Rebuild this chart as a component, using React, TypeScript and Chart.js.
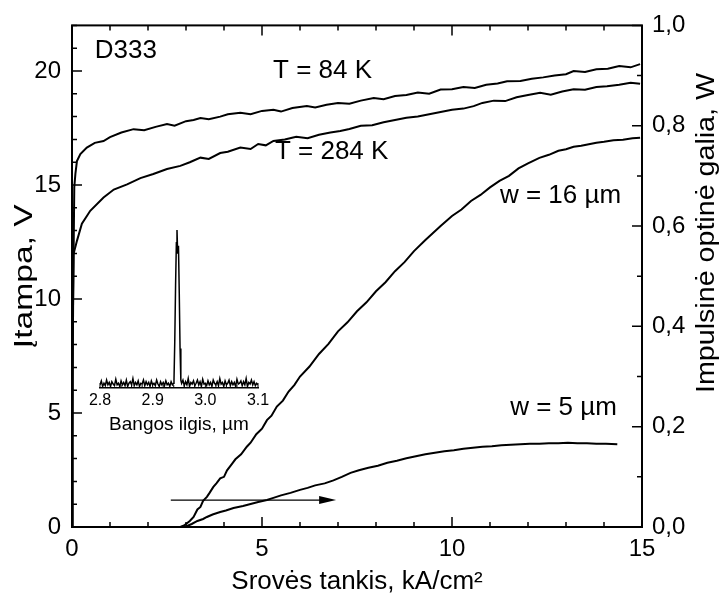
import React, { useEffect, useRef } from 'react';
import { Chart, registerables } from 'chart.js';

Chart.register(...registerables);

const FONT = '"Liberation Sans", Arial, Helvetica, sans-serif';

// ---- Main chart data ----
// Voltage (left axis, V) vs current density (kA/cm^2)
const t84Current = [0, 0.01, 0.03, 0.06, 0.09, 0.13, 0.22, 0.39, 0.6, 0.83, 1.0, 1.3, 1.62, 1.9, 2.2, 2.5, 2.7, 3.0, 3.2, 3.38, 3.6, 3.9, 4.1, 4.43, 4.7, 5.0, 5.3, 5.5, 5.8, 6.18, 6.4, 6.7, 7.0, 7.3, 7.6, 7.94, 8.2, 8.5, 8.8, 9.1, 9.4, 9.7, 10.0, 10.3, 10.6, 10.9, 11.2, 11.45, 11.8, 12.1, 12.4, 12.7, 13.0, 13.2, 13.5, 13.8, 14.1, 14.4, 14.7, 14.95];
const t84Voltage = [0, 4, 10, 14.9, 15.5, 16.05, 16.36, 16.64, 16.85, 16.93, 17.1, 17.3, 17.45, 17.4, 17.55, 17.67, 17.6, 17.8, 17.85, 17.94, 17.88, 18.0, 18.1, 18.17, 18.1, 18.25, 18.3, 18.22, 18.38, 18.46, 18.4, 18.52, 18.6, 18.56, 18.7, 18.82, 18.76, 18.9, 18.95, 19.06, 19.0, 19.19, 19.2, 19.3, 19.26, 19.4, 19.45, 19.55, 19.56, 19.66, 19.72, 19.8, 19.86, 20.0, 19.96, 20.08, 20.1, 20.22, 20.16, 20.3];

const t284Current = [0, 0.01, 0.025, 0.04, 0.13, 0.26, 0.48, 0.83, 1.1, 1.45, 1.8, 2.14, 2.5, 2.85, 3.1, 3.38, 3.6, 3.9, 4.1, 4.43, 4.7, 4.9, 5.1, 5.3, 5.6, 5.9, 6.2, 6.5, 6.8, 7.06, 7.3, 7.6, 7.9, 8.2, 8.5, 8.8, 9.1, 9.4, 9.7, 10.0, 10.3, 10.57, 10.8, 11.1, 11.4, 11.7, 12.0, 12.32, 12.6, 12.9, 13.2, 13.5, 13.8, 14.08, 14.4, 14.7, 14.95];
const t284Voltage = [0, 3, 8, 11.97, 12.55, 13.3, 13.87, 14.45, 14.8, 15.03, 15.3, 15.48, 15.7, 15.84, 16.0, 16.2, 16.14, 16.4, 16.46, 16.64, 16.58, 16.8, 16.74, 16.93, 17.0, 17.12, 17.05, 17.2, 17.3, 17.37, 17.46, 17.6, 17.62, 17.75, 17.85, 17.95, 18.0, 18.1, 18.2, 18.3, 18.35, 18.46, 18.6, 18.7, 18.68, 18.85, 18.95, 19.04, 18.96, 19.1, 19.2, 19.18, 19.3, 19.33, 19.4, 19.48, 19.44];

// Optical power (right axis, W)
const w16Current = [2.85, 2.95, 3.1, 3.2, 3.3, 3.38, 3.45, 3.55, 3.62, 3.72, 3.8, 3.9, 4.0, 4.08, 4.2, 4.3, 4.45, 4.6, 4.7, 4.85, 5.0, 5.13, 5.25, 5.39, 5.55, 5.7, 5.85, 6.0, 6.25, 6.5, 6.75, 7.0, 7.25, 7.5, 7.75, 8.0, 8.25, 8.5, 8.75, 9.0, 9.3, 9.7, 10.0, 10.25, 10.5, 10.75, 11.0, 11.25, 11.5, 11.75, 12.0, 12.3, 12.55, 12.8, 13.0, 13.2, 13.4, 13.6, 13.8, 14.0, 14.25, 14.5, 14.75, 14.95];
const w16Power = [0, 0.003, 0.012, 0.02, 0.035, 0.04, 0.052, 0.06, 0.068, 0.08, 0.087, 0.097, 0.1, 0.113, 0.125, 0.135, 0.145, 0.16, 0.168, 0.185, 0.196, 0.213, 0.222, 0.24, 0.252, 0.27, 0.283, 0.3, 0.32, 0.345, 0.365, 0.39, 0.408, 0.43, 0.448, 0.47, 0.488, 0.51, 0.528, 0.55, 0.572, 0.6, 0.62, 0.633, 0.65, 0.662, 0.677, 0.69, 0.7, 0.715, 0.725, 0.736, 0.742, 0.75, 0.753, 0.758, 0.76, 0.763, 0.766, 0.768, 0.771, 0.772, 0.775, 0.776];

const w5Current = [2.85, 3.0, 3.15, 3.3, 3.45, 3.55, 3.7, 3.9, 4.05, 4.25, 4.5, 4.7, 4.9, 5.13, 5.3, 5.5, 5.75, 6.0, 6.2, 6.4, 6.65, 6.88, 7.1, 7.33, 7.55, 7.8, 8.05, 8.3, 8.55, 8.8, 9.05, 9.3, 9.55, 9.8, 10.05, 10.3, 10.55, 10.8, 11.05, 11.3, 11.55, 11.8, 12.05, 12.3, 12.55, 12.8, 13.05, 13.3, 13.55, 13.8, 14.05, 14.35];
const w5Power = [0, 0.001, 0.006, 0.012, 0.016, 0.02, 0.025, 0.03, 0.033, 0.038, 0.042, 0.046, 0.05, 0.054, 0.058, 0.063, 0.068, 0.074, 0.078, 0.083, 0.087, 0.093, 0.1, 0.108, 0.113, 0.118, 0.122, 0.128, 0.132, 0.137, 0.141, 0.145, 0.148, 0.151, 0.153, 0.156, 0.158, 0.16, 0.161, 0.163, 0.164, 0.165, 0.166, 0.166, 0.167, 0.167, 0.168, 0.167, 0.167, 0.166, 0.166, 0.165];

const xTickValues = [0, 5, 10, 15];
const leftTickValues = [0, 5, 10, 15, 20];
const rightTickValues = [0, 0.2, 0.4, 0.6, 0.8, 1.0];

// ---- Inset spectrum data ----
const insetWavelength = [
  2.8, 2.8025, 2.805, 2.8075, 2.81, 2.8125, 2.815, 2.8175, 2.82, 2.8225,
  2.825, 2.8275, 2.83, 2.8325, 2.835, 2.8375, 2.84, 2.8425, 2.845, 2.8475,
  2.85, 2.8525, 2.855, 2.8575, 2.86, 2.8625, 2.865, 2.8675, 2.87, 2.8725,
  2.875, 2.8775, 2.88, 2.8825, 2.885, 2.8875, 2.89, 2.8925, 2.895, 2.8975,
  2.9, 2.9025, 2.905, 2.9075, 2.91, 2.9125, 2.915, 2.9175, 2.92, 2.9225,
  2.925, 2.9275, 2.93, 2.9325, 2.935, 2.9375, 2.94,
  2.9405, 2.942, 2.9435, 2.945, 2.9462, 2.9475, 2.949, 2.9505, 2.952, 2.9535,
  2.955, 2.9575, 2.96, 2.9625, 2.965, 2.9675, 2.97, 2.9725, 2.975, 2.9775,
  2.98, 2.9825, 2.985, 2.9875, 2.99, 2.9925, 2.995, 2.9975, 3.0, 3.0025,
  3.005, 3.0075, 3.01, 3.0125, 3.015, 3.0175, 3.02, 3.0225, 3.025, 3.0275,
  3.03, 3.0325, 3.035, 3.0375, 3.04, 3.0425, 3.045, 3.0475, 3.05, 3.0525,
  3.055, 3.0575, 3.06, 3.0625, 3.065, 3.0675, 3.07, 3.0725, 3.075, 3.0775,
  3.08, 3.0825, 3.085, 3.0875, 3.09, 3.0925, 3.095, 3.0975, 3.1,
];
const insetIntensity = [
  0.02, 0.045, 0.01, 0.03, 0.015, 0.05, 0.02, 0.035, 0.01, 0.04,
  0.025, 0.015, 0.055, 0.02, 0.03, 0.01, 0.045, 0.02, 0.035, 0.015,
  0.05, 0.01, 0.03, 0.04, 0.02, 0.06, 0.015, 0.035, 0.02, 0.045,
  0.01, 0.03, 0.025, 0.05, 0.015, 0.04, 0.02, 0.035, 0.01, 0.045,
  0.02, 0.03, 0.015, 0.05, 0.025, 0.01, 0.04, 0.02, 0.035, 0.015,
  0.045, 0.02, 0.03, 0.01, 0.04, 0.02, 0.03,
  0.05, 0.3, 0.65, 0.92, 1.0, 0.85, 0.9, 0.6, 0.25, 0.05,
  0.03, 0.05, 0.015, 0.04, 0.02, 0.06, 0.01, 0.035, 0.025, 0.045,
  0.015, 0.03, 0.05, 0.02, 0.04, 0.01, 0.055, 0.025, 0.03, 0.015,
  0.045, 0.02, 0.035, 0.01, 0.05, 0.03, 0.02, 0.04, 0.015, 0.06,
  0.025, 0.035, 0.01, 0.045, 0.02, 0.03, 0.05, 0.015, 0.04, 0.02,
  0.035, 0.01, 0.055, 0.025, 0.03, 0.045, 0.015, 0.04, 0.02, 0.06,
  0.01, 0.035, 0.025, 0.05, 0.02, 0.04, 0.015, 0.03, 0.02,
];
const insetTickValues = [2.8, 2.9, 3.0, 3.1];

// ---- Annotations (in left-axis data units) ----
const annotations = [
  { text: 'D333', x: 0.6, y: 20.56, align: 'left' },
  { text: 'T = 84 K', x: 5.29, y: 19.68, align: 'left' },
  { text: 'T = 284 K', x: 5.34, y: 16.14, align: 'left' },
  { text: 'w = 16 µm', x: 11.26, y: 14.23, align: 'left' },
  { text: 'w = 5 µm', x: 14.34, y: 4.9, align: 'right' },
];
const arrowFrom = 2.6;
const arrowTo = 6.95;
const arrowLevel = 1.18;

const pts = (xs: number[], ys: number[]) => xs.map((x, i) => ({ x, y: ys[i] }));

const drawStretchedVertical = (ctx: CanvasRenderingContext2D, text: string, cx: number, cy: number, size: number, targetLen: number) => {
  ctx.save();
  ctx.font = `${size}px ${FONT}`;
  const w = ctx.measureText(text).width;
  ctx.translate(cx, cy);
  ctx.rotate(-Math.PI / 2);
  ctx.scale(targetLen / w, 1);
  ctx.textAlign = 'center';
  ctx.textBaseline = 'middle';
  ctx.fillStyle = '#000';
  ctx.fillText(text, 0, 0);
  ctx.restore();
};

const mainPlugin = {
  id: 'mainDecor',
  afterDraw(chart: any) {
    const { ctx, chartArea: a } = chart;
    const sx = chart.scales.x;
    const sy = chart.scales.y;
    const sy2 = chart.scales.y2;
    ctx.save();
    ctx.strokeStyle = '#000';
    ctx.fillStyle = '#000';
    ctx.lineWidth = 1.5;
    ctx.beginPath();
    for (let v = 0; v <= 15; v++) {
      const p = sx.getPixelForValue(v);
      const len = v % 5 === 0 ? 10 : 5;
      ctx.moveTo(p, a.bottom);
      ctx.lineTo(p, a.bottom - len);
      ctx.moveTo(p, a.top);
      ctx.lineTo(p, a.top + len);
    }
    for (let v = 0; v <= 22; v++) {
      const p = sy.getPixelForValue(v);
      const len = v % 5 === 0 ? 10 : 5;
      ctx.moveTo(a.left, p);
      ctx.lineTo(a.left + len, p);
    }
    for (let i = 0; i <= 10; i++) {
      const p = sy2.getPixelForValue(i / 10);
      const len = i % 2 === 0 ? 10 : 5;
      ctx.moveTo(a.right, p);
      ctx.lineTo(a.right - len, p);
    }
    ctx.stroke();
    ctx.lineWidth = 2;
    ctx.strokeRect(a.left, a.top, a.right - a.left, a.bottom - a.top);

    // arrow
    const ay = sy.getPixelForValue(arrowLevel);
    const ax1 = sx.getPixelForValue(arrowFrom);
    const ax2 = sx.getPixelForValue(arrowTo);
    ctx.lineWidth = 1.2;
    ctx.beginPath();
    ctx.moveTo(ax1, ay);
    ctx.lineTo(ax2 - 10, ay);
    ctx.stroke();
    ctx.beginPath();
    ctx.moveTo(ax2, ay);
    ctx.lineTo(ax2 - 17, ay - 4);
    ctx.lineTo(ax2 - 17, ay + 4);
    ctx.closePath();
    ctx.fill();

    // annotations
    ctx.font = `26px ${FONT}`;
    ctx.textBaseline = 'alphabetic';
    for (const an of annotations) {
      ctx.textAlign = an.align as CanvasTextAlign;
      ctx.fillText(an.text, sx.getPixelForValue(an.x), sy.getPixelForValue(an.y));
    }
    ctx.restore();

    // axis titles (left and right)
    drawStretchedVertical(ctx, 'Įtampa, V', 25, (a.top + a.bottom) / 2, 25, 144);
    drawStretchedVertical(ctx, 'Impulsinė optinė galia, W', 707, 233, 25, 320);
  },
};

const insetPlugin = {
  id: 'insetDecor',
  afterDraw(chart: any) {
    const { ctx, chartArea: a } = chart;
    const sx = chart.scales.x;
    ctx.save();
    ctx.strokeStyle = '#000';
    ctx.lineWidth = 1;
    ctx.beginPath();
    for (let i = 0; i <= 15; i++) {
      const p = sx.getPixelForValue(2.8 + i * 0.02);
      const len = i % 5 === 0 ? 5 : 3;
      ctx.moveTo(p, a.bottom);
      ctx.lineTo(p, a.bottom - len);
    }
    ctx.stroke();
    ctx.restore();
  },
};

export default function App() {
  const mainRef = useRef<HTMLCanvasElement | null>(null);
  const insetRef = useRef<HTMLCanvasElement | null>(null);

  useEffect(() => {
    const lineStyle = { borderColor: '#000', borderWidth: 2, pointRadius: 0, tension: 0, fill: false };
    const main = new Chart(mainRef.current as HTMLCanvasElement, {
      type: 'line',
      data: {
        datasets: [
          { ...lineStyle, label: 'T = 84 K', data: pts(t84Current, t84Voltage), yAxisID: 'y' },
          { ...lineStyle, label: 'T = 284 K', data: pts(t284Current, t284Voltage), yAxisID: 'y' },
          { ...lineStyle, label: 'w = 16 µm', data: pts(w16Current, w16Power), yAxisID: 'y2' },
          { ...lineStyle, label: 'w = 5 µm', data: pts(w5Current, w5Power), yAxisID: 'y2' },
        ],
      },
      options: {
        responsive: false,
        animation: false,
        layout: { padding: { top: 24, left: 0, right: 0, bottom: 0 } },
        plugins: { legend: { display: false }, tooltip: { enabled: false } },
        scales: {
          x: {
            type: 'linear',
            position: 'bottom',
            min: 0,
            max: 15,
            grid: { display: false, drawTicks: false },
            border: { display: false },
            ticks: {
              font: { family: FONT, size: 24 },
              color: '#000',
              padding: 8,
              autoSkip: false,
              maxRotation: 0,
              callback: (v: any) => String(v),
            },
            afterBuildTicks: (s: any) => {
              s.ticks = xTickValues.map((v) => ({ value: v }));
            },
            afterFit: (s: any) => {
              s.height = 68;
            },
            title: {
              display: true,
              text: 'Srovės tankis, kA/cm²',
              color: '#000',
              font: { family: FONT, size: 26, lineHeight: 1 },
              padding: { top: 0, bottom: 0 },
            },
          },
          y: {
            type: 'linear',
            position: 'left',
            min: 0,
            max: 22,
            grid: { display: false, drawTicks: false },
            border: { display: false },
            ticks: {
              font: { family: FONT, size: 24 },
              color: '#000',
              padding: 11,
              autoSkip: false,
              callback: (v: any) => String(v),
            },
            afterBuildTicks: (s: any) => {
              s.ticks = leftTickValues.map((v) => ({ value: v }));
            },
            afterFit: (s: any) => {
              s.width = 72;
            },
          },
          y2: {
            type: 'linear',
            position: 'right',
            min: 0,
            max: 1,
            grid: { display: false, drawTicks: false },
            border: { display: false },
            ticks: {
              font: { family: FONT, size: 24 },
              color: '#000',
              padding: 10,
              autoSkip: false,
              callback: (v: any) => Number(v).toFixed(1).replace('.', ','),
            },
            afterBuildTicks: (s: any) => {
              s.ticks = rightTickValues.map((v) => ({ value: v }));
            },
            afterFit: (s: any) => {
              s.width = 78;
            },
          },
        },
      },
      plugins: [mainPlugin],
    });

    const inset = new Chart(insetRef.current as HTMLCanvasElement, {
      type: 'line',
      data: {
        datasets: [
          {
            label: 'spectrum',
            data: pts(insetWavelength, insetIntensity),
            borderColor: '#000',
            borderWidth: 1.5,
            pointRadius: 0,
            tension: 0,
            fill: false,
          },
        ],
      },
      options: {
        responsive: false,
        animation: false,
        layout: { padding: { top: 30, left: 20, right: 22, bottom: 0 } },
        plugins: { legend: { display: false }, tooltip: { enabled: false } },
        scales: {
          x: {
            type: 'linear',
            position: 'bottom',
            min: 2.8,
            max: 3.1,
            grid: { display: false, drawTicks: false },
            border: { display: true, color: '#000', width: 1.5 },
            ticks: {
              font: { family: FONT, size: 16 },
              color: '#000',
              padding: 3,
              autoSkip: false,
              maxRotation: 0,
              callback: (v: any) => Number(v).toFixed(1),
            },
            afterBuildTicks: (s: any) => {
              s.ticks = insetTickValues.map((v) => ({ value: v }));
            },
            afterFit: (s: any) => {
              s.height = 52;
            },
            title: {
              display: true,
              text: 'Bangos ilgis, µm',
              color: '#000',
              font: { family: FONT, size: 19, lineHeight: 1.2 },
              padding: { top: 0, bottom: 4 },
            },
          },
          y: { display: false, min: 0, max: 1 },
        },
      },
      plugins: [insetPlugin],
    });

    return () => {
      main.destroy();
      inset.destroy();
    };
  }, []);

  return (
    <div style={{ position: 'absolute', left: 0, top: 0, width: 720, height: 595, background: '#fff' }}>
      <canvas ref={mainRef} width={720} height={595} style={{ position: 'absolute', left: 0, top: 0, width: 720, height: 595 }} />
      <canvas ref={insetRef} width={200} height={240} style={{ position: 'absolute', left: 80, top: 200, width: 200, height: 240 }} />
    </div>
  );
}
